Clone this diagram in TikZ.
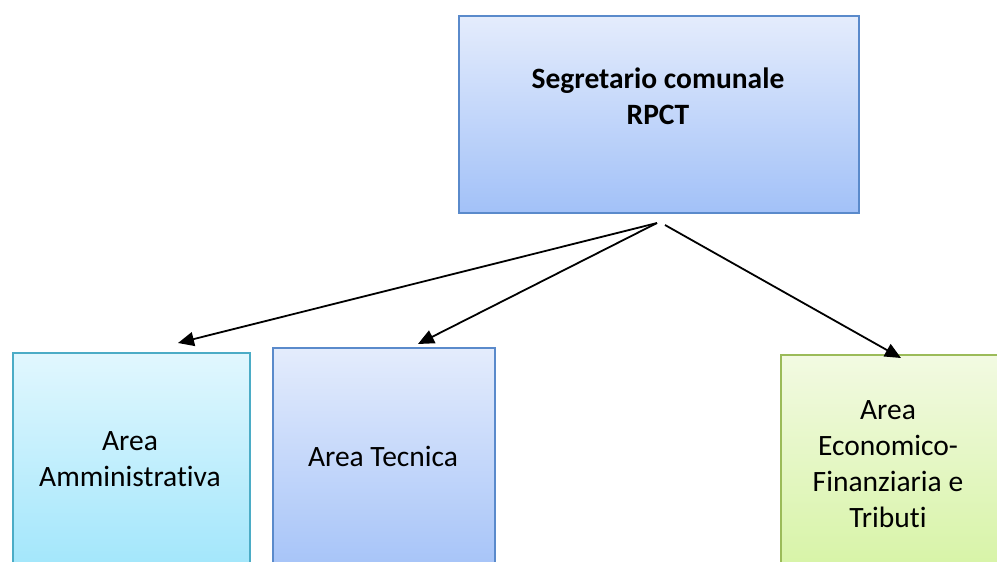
\documentclass[tikz,border=0pt]{standalone}
\usepackage{fontspec}
\setmainfont[Ligatures=NoCommon]{Carlito}
\usetikzlibrary{arrows.meta,positioning}
\definecolor{blueTop}{HTML}{E4ECFC}
\definecolor{blueBot}{HTML}{A2C1F8}
\definecolor{blueLine}{HTML}{5A8ACB}
\definecolor{cyanTop}{HTML}{E1F7FE}
\definecolor{cyanBot}{HTML}{9EE5FB}
\definecolor{cyanLine}{HTML}{4BACC6}
\definecolor{greenTop}{HTML}{F2FAE2}
\definecolor{greenBot}{HTML}{D5F3A2}
\definecolor{greenLine}{HTML}{9BBB59}
\tikzset{
    orgbox/.style={draw, line width=1.5pt, rectangle, inner sep=0pt, anchor=north west},
    orgtext/.style={align=center, font=\fontsize{29.5}{36}\selectfont, inner sep=0pt},
    link/.style={line width=1.8pt, -{Triangle[length=16pt,width=14pt]}},
}

\begin{document}
\begin{tikzpicture}[x=1pt,y=-1pt]
\useasboundingbox (0,0) rectangle (997,562);
\clip (0,0) rectangle (997,562);
\node[orgbox, draw=blueLine, top color=blueTop, bottom color=blueBot, minimum width=400pt, minimum height=197pt] (seg) at (458,15) {};
\node[orgbox, draw=cyanLine, top color=cyanTop, bottom color=cyanBot, minimum width=237pt, minimum height=230pt] (amm) at (12,352) {};
\node[orgbox, draw=blueLine, top color=blueTop, bottom color=blueBot, minimum width=222pt, minimum height=235pt] (tec) at (272,347) {};
\node[orgbox, draw=greenLine, top color=greenTop, bottom color=greenBot, minimum width=230pt, minimum height=230pt] (eco) at (780,354) {};
\node[orgtext, font=\fontsize{29.5}{36}\selectfont\bfseries] (segT) at (658,96) {Segretario comunale\\RPCT};
\node[orgtext] (ammT) at (130,459) {Area\\Amministrativa};
\node[orgtext] (tecT) at (383,456) {Area Tecnica};
\node[orgtext] (ecoT) at (888,464) {Area\\Economico-\\Finanziaria e\\Tributi};
\coordinate (out1) at (657,223);
\coordinate (out2) at (665,225);
\coordinate (in1) at (178,343);
\coordinate (in2) at (418,344);
\coordinate (in3) at (901,358);
\draw[link] (out1) -- (in1);
\draw[link] (out1) -- (in2);
\draw[link] (out2) -- (in3);
\end{tikzpicture}
\end{document}
